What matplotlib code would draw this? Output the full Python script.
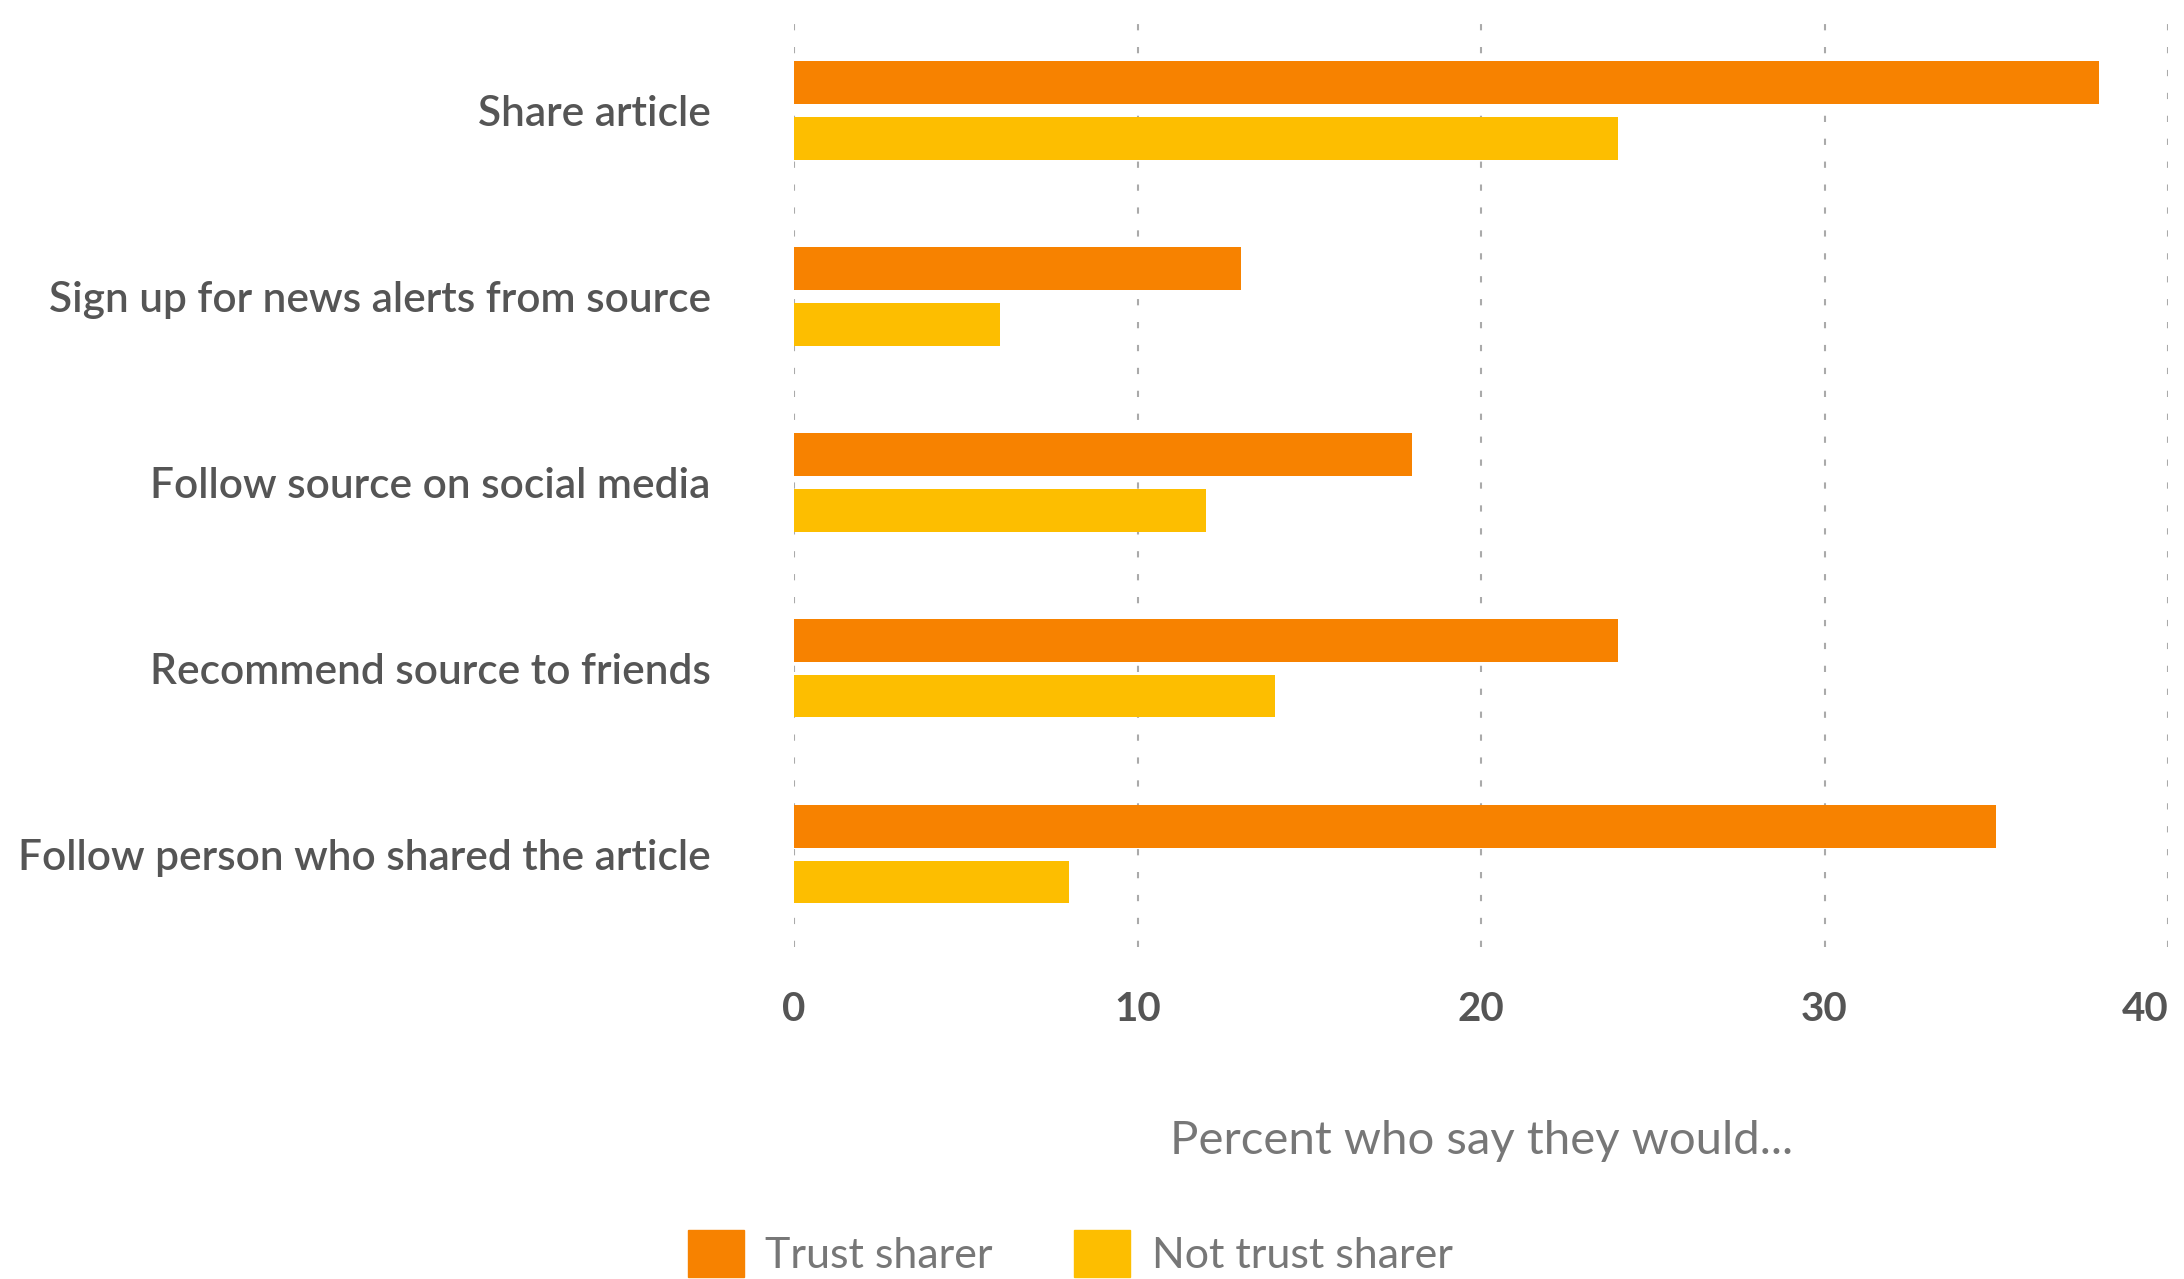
import matplotlib
matplotlib.use("Agg")
import matplotlib.pyplot as plt
import numpy as np
from matplotlib.patches import Patch

categories = ["Share article", "Sign up for news alerts from source",
              "Follow source on social media", "Recommend source to friends",
              "Follow person who shared the article"]
trust = [38, 13, 18, 24, 35]
not_trust = [24, 6, 12, 14, 8]
series_names = ["Trust sharer", "Not trust sharer"]
xticks = [0, 10, 20, 30, 40]

ORANGE = "#F78200"
YELLOW = "#FDBE00"
TEXT = "#555555"

plt.rcParams['font.family'] = ['Lato', 'DejaVu Sans']

fig = plt.figure(figsize=(21.84, 12.79), dpi=100)
ax = fig.add_axes([0.3636, 0.2596, 0.6291, 0.7294])

y = np.arange(len(categories))
h = 0.23
ax.barh(y - 0.15, trust, height=h, color=ORANGE, zorder=3)
ax.barh(y + 0.15, not_trust, height=h, color=YELLOW, zorder=3)

ax.set_xlim(0, 40)
ax.set_ylim(4.5, -0.52)
ax.set_xticks(xticks)
ax.set_xticklabels([str(t) for t in xticks])
ax.set_yticks(y)
ax.set_yticklabels(categories)
ax.tick_params(axis='y', length=0, pad=60, labelsize=30.5, labelcolor=TEXT)
ax.tick_params(axis='x', length=0, pad=32, labelsize=29, labelcolor=TEXT)
for lab in ax.get_xticklabels():
    lab.set_fontweight('bold')
ax.get_xticklabels()[-1].set_horizontalalignment('right')
for lab in ax.get_yticklabels():
    lab.set_fontweight('semibold')
for s in ax.spines.values():
    s.set_visible(False)
ax.grid(axis='x', color='#aaaaaa', linestyle=(0, (3, 8)), linewidth=1.5, zorder=0)
ax.grid(axis='y', visible=False)

ax.set_xlabel("Percent who say they would...", fontsize=34, color="#777777", labelpad=66)

handles = [Patch(color=ORANGE), Patch(color=YELLOW)]
fig.legend(handles, series_names, loc='center', bbox_to_anchor=(0.49, 0.02),
           ncol=2, frameon=False, fontsize=31, labelcolor="#777777",
           handlelength=1.3, handleheight=1.3, handletextpad=0.5,
           columnspacing=1.9, borderpad=0)

fig.savefig("out.png", dpi=100)
